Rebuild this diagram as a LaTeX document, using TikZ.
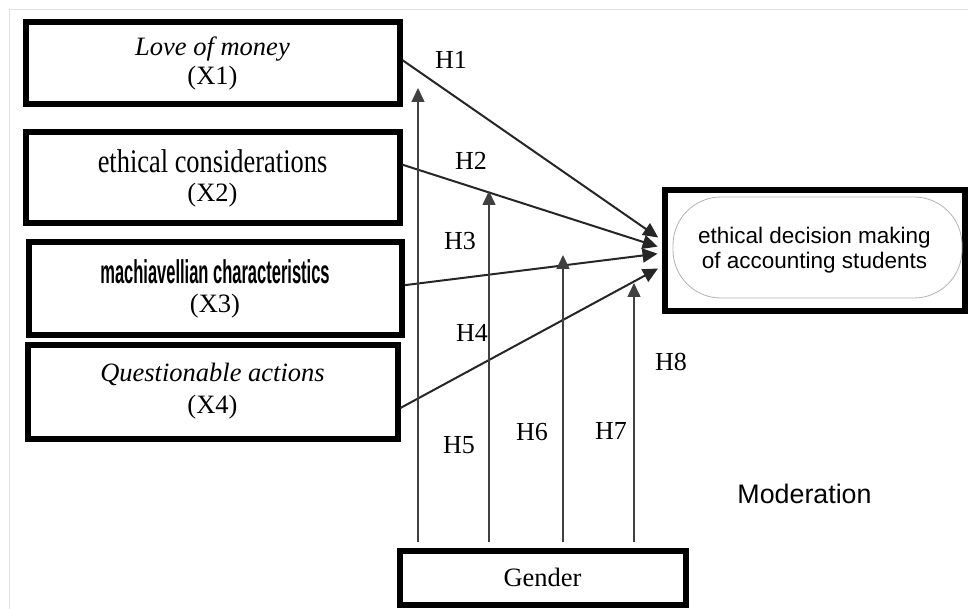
\documentclass[tikz,border=0pt]{standalone}
\usepackage{fontspec}
\setmainfont{Liberation Serif}
\newfontfamily\arialfont{Liberation Sans}
\usepackage{graphicx}
\usetikzlibrary{arrows.meta}

\begin{document}
\begin{tikzpicture}[x=1pt,y=-1pt,
    varbox/.style={draw,line width=6pt,inner sep=0pt,align=center,font=\fontsize{26.5}{29}\selectfont},
    hyp/.style={font=\fontsize{26}{26}\selectfont},
    effect/.style={draw=black!85,line width=2pt,-{Triangle[length=15pt,width=14pt]},shorten >=4pt},
    moder/.style={draw=black!75,line width=1.5pt,-{Triangle[length=14pt,width=13pt]},shorten <=5.5pt}]
    \useasboundingbox (0,0) rectangle (968,609);
    \draw[black!12] (9,609) -- (9,9) -- (968,9);
    % Independent variables
    \node[varbox,minimum width=374pt,minimum height=82pt] (x1) at (212.5,63.5) {\textit{Love of money}\\(X1)};
    \node[varbox,minimum width=374pt,minimum height=91pt] (x2) at (212.5,178) {\scalebox{0.8}[1]{\fontsize{33}{33}\selectfont ethical considerations}\\(X2)};
    \node[varbox,minimum width=373pt,minimum height=92pt] (x3) at (215,288.5) {\scalebox{0.5}[1]{\arialfont\bfseries\fontsize{33}{33}\selectfont machiavellian characteristics}\\(X3)};
    \node[varbox,minimum width=370pt,minimum height=94pt,font=\fontsize{26.5}{32}\selectfont] (x4) at (212.5,391.5) {\textit{Questionable actions}\\(X4)};
    % Dependent variable and moderator
    \node[varbox,minimum width=300pt,minimum height=120pt,font=\arialfont\fontsize{22.5}{25}\selectfont] (ethdm) at (814.5,250.5) {ethical decision making\\of accounting students};
    \draw[black!30,line width=0.8pt,rounded corners=48pt] (673,197) rectangle (962,298);
    \node[varbox,minimum width=286pt,minimum height=54pt] (gender) at (542.5,577.5) {Gender};
    % Direct effects
    \draw[effect] (x1.1.7) -- (ethdm.176.8);
    \draw[effect] (x2.4.6) -- (ethdm.179);
    \draw[effect] (x3.1.1) -- (ethdm.181);
    \draw[effect] (x4.355.2) -- (ethdm.186.7);
    % Moderation arrows
    \coordinate (m1) at (418,88);
    \coordinate (m2) at (489,191);
    \coordinate (m3) at (563,255);
    \coordinate (m4) at (634,283);
    \foreach \m in {m1,m2,m3,m4}
        \draw[moder] (gender.north -| \m) -- (\m);
    % Hypotheses
    \node[hyp] (h1) at (451,60) {H1};
    \node[hyp] (h2) at (471,161) {H2};
    \node[hyp] (h3) at (460,241) {H3};
    \node[hyp] (h4) at (472,333) {H4};
    \node[hyp] (h5) at (459,445) {H5};
    \node[hyp] (h6) at (532,432) {H6};
    \node[hyp] (h7) at (611,431) {H7};
    \node[hyp] (h8) at (671,362) {H8};
    \node[font=\arialfont\fontsize{26.8}{26.8}\selectfont,anchor=base] (modnote) at (804.5,503) {Moderation};
\end{tikzpicture}
\end{document}
